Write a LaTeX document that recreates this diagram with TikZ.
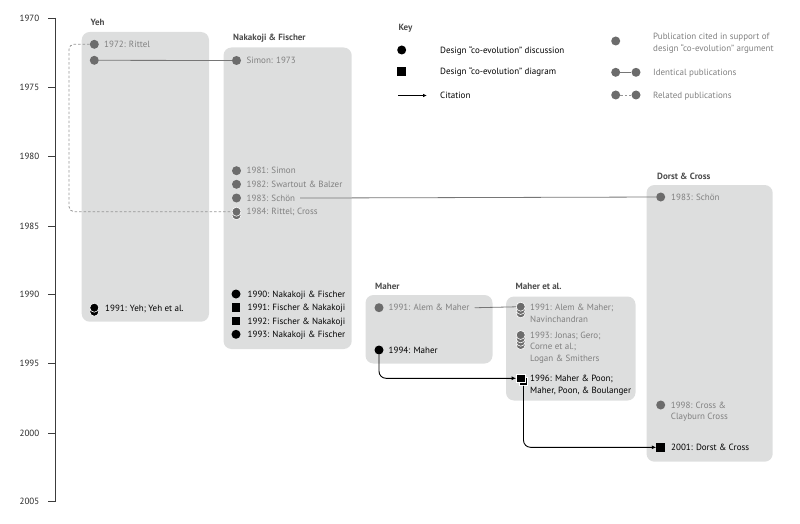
\documentclass[tikz,border=0pt]{standalone}
\usepackage{fontspec}
\setmainfont{PT Sans}
\usetikzlibrary{arrows.meta}
\definecolor{boxgray}{RGB}{221,222,222}
\definecolor{dotgray}{RGB}{108,108,108}
\definecolor{txtgray}{RGB}{128,128,128}
\definecolor{linegray}{RGB}{118,118,118}
\definecolor{dashgray}{RGB}{150,150,150}
\definecolor{titlegray}{RGB}{75,75,75}
\definecolor{axisgray}{RGB}{60,60,60}
\begin{document}
\begin{tikzpicture}[x=1pt,y=-1pt,
  font=\fontsize{9}{11.5}\selectfont,
  panel/.style={fill=boxgray, rounded corners=8pt},
  gdot/.style={circle, fill=dotgray, minimum size=9pt, inner sep=0pt},
  bdot/.style={circle, fill=black, minimum size=9pt, inner sep=0pt},
  bsq/.style={rectangle, fill=black, minimum size=8.5pt, inner sep=0pt},
  glab/.style={anchor=base west, text=txtgray, inner sep=0pt, align=left},
  blab/.style={anchor=base west, text=black, inner sep=0pt, align=left},
  ttl/.style={anchor=base west, font=\fontsize{9}{11}\selectfont\bfseries, text=titlegray, inner sep=0pt},
  yrlab/.style={anchor=base east, text=black!85, inner sep=0pt},
  ident/.style={draw=linegray, line width=0.8pt},
  related/.style={draw=dashgray, line width=0.8pt, dash pattern=on 2.5pt off 2pt, rounded corners=5pt},
  cite/.style={draw=black, line width=0.9pt, rounded corners=7pt, -{Latex[length=4.5pt,width=4pt]}},
  stackg/.style={fill=dotgray, draw=white, line width=0.6pt},
  stackb/.style={fill=black, draw=white, line width=0.6pt}]
\useasboundingbox (0,0) rectangle (800,524);

% ---- time axis
\draw[axisgray, line width=1.4pt] (55.7,17.6) -- (55.7,502.4);
\foreach \yr/\yy in {1970/18.3,1975/87.3,1980/156.7,1985/226,1990/294.3,1995/363.3,2000/433.3,2005/501.7}{
  \draw[axisgray, line width=1pt] (48,\yy) -- (55.7,\yy);
  \node[yrlab] (yr\yr) at (39.5,\yy+3.2) {\yr};
}

% ---- panels
\fill[panel] (81.7,32) rectangle (209,321.7);
\fill[panel] (223.5,47.5) rectangle (351.7,349);
\fill[panel] (365.5,295) rectangle (492.5,363.5);
\fill[panel] (506,296.5) rectangle (635.5,400.5);
\fill[panel] (646.5,185) rectangle (772.7,461.7);

% ---- panel titles
\node[ttl] (tYeh) at (90.5,26) {Yeh};
\node[ttl] (tNF) at (233,41) {Nakakoji \& Fischer};
\node[ttl] (tM) at (375,289.5) {Maher};
\node[ttl] (tME) at (515.5,289.5) {Maher et al.};
\node[ttl] (tDC) at (657,179.5) {Dorst \& Cross};

% ---- Yeh
\node[gdot] (y72) at (94.3,44.3) {};
\node[glab] (y72t) at (104,47.5) {1972: Rittel};
\node[gdot] (y73) at (94.3,60.3) {};
\fill[stackb] (94.3,311.7) circle (4.5pt);
\node[bdot, draw=white, line width=0.6pt] (y91) at (94.3,307.7) {};
\node[blab] (y91t) at (105,311) {1991: Yeh; Yeh et al.};

% ---- Nakakoji & Fischer
\node[gdot] (s73) at (236.5,60.5) {};
\node[glab] (s73t) at (246.5,63.7) {Simon: 1973};
\node[gdot] (s81) at (236.5,170.7) {};
\node[glab] (s81t) at (246.5,173.9) {1981: Simon};
\node[gdot] (s82) at (236.5,184.3) {};
\node[glab] (s82t) at (246.5,187.5) {1982: Swartout \& Balzer};
\node[gdot] (s83) at (236.5,198) {};
\node[glab] (s83t) at (246.5,201.2) {1983: Schön};
\fill[stackg] (236.5,215.2) circle (4.5pt);
\node[gdot, draw=white, line width=0.6pt] (s84) at (236.5,211.7) {};
\node[glab] (s84t) at (246.5,214.9) {1984: Rittel; Cross};
\node[bdot] (n90) at (236,294) {};
\node[blab] (n90t) at (247.5,297.2) {1990: Nakakoji \& Fischer};
\node[bsq] (n91) at (236,307.5) {};
\node[blab] (n91t) at (247.5,310.7) {1991: Fischer \& Nakakoji};
\node[bsq] (n92) at (236,320.8) {};
\node[blab] (n92t) at (247.5,324) {1992: Fischer \& Nakakoji};
\node[bdot] (n93) at (236,334.3) {};
\node[blab] (n93t) at (247.5,337.5) {1993: Nakakoji \& Fischer};

% ---- Maher
\node[gdot] (m91) at (379,307.7) {};
\node[glab] (m91t) at (388.5,310.9) {1991: Alem \& Maher};
\node[bdot] (m94) at (379,350) {};
\node[blab] (m94t) at (388.5,353.2) {1994: Maher};

% ---- Maher et al. (multi-line labels: base = last line)
\fill[stackg] (520.7,313.3) circle (4.5pt);
\fill[stackg] (520.7,310) circle (4.5pt);
\node[gdot, draw=white, line width=0.6pt] (e91) at (520.7,306.7) {};
\node[glab] (e91t) at (530,322.2) {1991: Alem \& Maher;\\Navinchandran};
\fill[stackg] (520.7,345) circle (4.5pt);
\fill[stackg] (520.7,341.7) circle (4.5pt);
\fill[stackg] (520.7,338.4) circle (4.5pt);
\node[gdot, draw=white, line width=0.6pt] (e93) at (520.7,335) {};
\node[glab] (e93t) at (530,361.2) {1993: Jonas; Gero;\\Corne et al.;\\Logan \& Smithers};
\node[bsq, draw=white, line width=0.6pt] (e96b) at (523.5,381.2) {};
\node[bsq, draw=white, line width=0.6pt] (e96) at (520.7,378.3) {};
\node[blab] (e96t) at (530,393) {1996: Maher \& Poon;\\Maher, Poon, \& Boulanger};

% ---- Dorst & Cross
\node[gdot] (d83) at (660.7,197) {};
\node[glab] (d83t) at (671,200.2) {1983: Schön};
\node[gdot] (d98) at (660.7,405) {};
\node[glab] (d98t) at (670.7,419.7) {1998: Cross \&\\Clayburn Cross};
\node[bsq] (d01) at (660.7,447.3) {};
\node[blab] (d01t) at (671,450.5) {2001: Dorst \& Cross};

% ---- connectors
\coordinate (rc1) at (69,44.3);
\coordinate (rc2) at (69,211.7);
\draw[related] (y72.west) -- (rc1) -- (rc2) -- (s84.west);
\draw[ident] (y73) -- (s73);
\draw[ident] ([xshift=5pt]s83t.east) -- (d83);
\draw[ident] ([xshift=5pt]m91t.east) -- (e91);
\draw[cite] (m94.south) |- (e96.west);
\draw[cite] (e96b.south) |- (d01.west);

% ---- key
\node[ttl] (key) at (398.3,30.5) {Key};
\node[bdot] (kc) at (401.7,50) {};
\node[blab] (kct) at (440,53.2) {Design “co-evolution” discussion};
\node[bsq] (ks) at (401.7,71.7) {};
\node[blab] (kst) at (440,74.9) {Design “co-evolution” diagram};
\coordinate (ka1) at (398,95.5);
\coordinate (ka2) at (427,95.5);
\draw[black, line width=0.8pt, -{Latex[length=4pt,width=3.5pt]}] (ka1) -- (ka2);
\node[blab] (kat) at (440,98.7) {Citation};
\node[gdot] (kg) at (615.7,41) {};
\node[glab] (kgt) at (653,51.4) {Publication cited in support of\\design “co-evolution” argument};
\node[gdot] (ki1) at (615.7,72.3) {};
\node[gdot] (ki2) at (636,72.3) {};
\draw[ident] (ki1) -- (ki2);
\node[glab] (kit) at (653,75.5) {Identical publications};
\node[gdot] (kr1) at (615.7,95) {};
\node[gdot] (kr2) at (636,95) {};
\draw[related] (kr1) -- (kr2);
\node[glab] (krt) at (653,98.2) {Related publications};
\end{tikzpicture}
\end{document}
